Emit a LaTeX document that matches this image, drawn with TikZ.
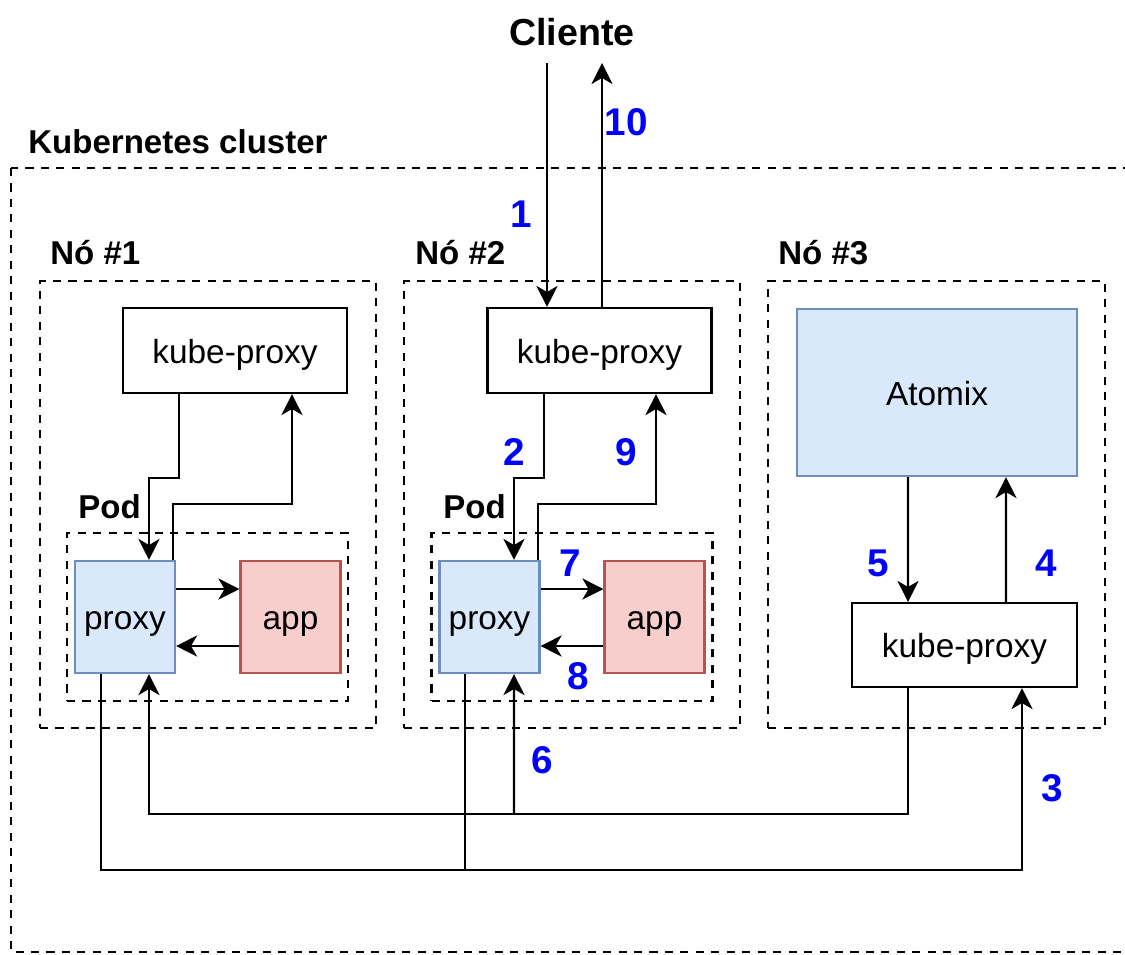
\documentclass[tikz,border=0pt]{standalone}
\usepackage{fontspec}
\setmainfont{Liberation Sans}
\usepackage{tikz}
\usetikzlibrary{arrows.meta,calc,positioning}
\definecolor{Num}{HTML}{0000FF}
\definecolor{ProxyLine}{HTML}{6C8EBF}
\definecolor{ProxyFill}{HTML}{DAE8FC}
\definecolor{AppLine}{HTML}{B85450}
\definecolor{AppFill}{HTML}{F8CECC}
\tikzset{kbox/.style={draw,line width=1.2pt,fill=white,minimum width=4.48cm,minimum height=1.7cm,text height=18pt,text depth=3.4pt,font=\fontsize{19}{23}\selectfont},proxy/.style={draw=ProxyLine,fill=ProxyFill,line width=1.2pt,minimum width=2cm,minimum height=2.24cm,text height=18pt,text depth=3.4pt,font=\fontsize{19}{23}\selectfont},app/.style={draw=AppLine,fill=AppFill,line width=1.2pt,minimum width=2cm,minimum height=2.24cm,text height=18pt,text depth=3.4pt,font=\fontsize{19}{23}\selectfont},group/.style={draw,line width=1.2pt,dash pattern=on 4.6pt off 4.2pt,inner sep=0pt},title/.style={font=\bfseries\fontsize{18.8}{22}\selectfont,anchor=west,inner sep=0pt},num/.style={text=Num,font=\bfseries\fontsize{22}{26}\selectfont,inner sep=0pt},flow/.style={-{Stealth[length=12pt,width=12pt,inset=3.5pt]},line width=1.2pt}}

\begin{document}
\begin{tikzpicture}[x=0.02cm,y=-0.02cm]
      \useasboundingbox (0,0) rectangle (1125,954);
      % cluster and the three nodes
      \draw[group] (11,168) rectangle (1140,952);
      \node[title] (tcl) at (28,142) {Kubernetes cluster};
      \node[group,minimum width=6.72cm,minimum height=8.94cm] (n1) at (208,504.5) {};
      \node[group,minimum width=6.72cm,minimum height=8.94cm] (n2) at (572,504.5) {};
      \node[group,minimum width=6.74cm,minimum height=8.94cm] (n3) at (936.5,504.5) {};
      \node[title] (tn1) at (50,253) {Nó \#1};
      \node[title] (tn2) at (415,253) {Nó \#2};
      \node[title] (tn3) at (778,253) {Nó \#3};
      \node[group,minimum width=5.62cm,minimum height=3.36cm] (pod1) at (207.5,617) {};
      \node[group,minimum width=5.62cm,minimum height=3.36cm] (pod2) at (572,617) {};
      \node[title] (tp1) at (78,507) {Pod};
      \node[title] (tp2) at (443,507) {Pod};
      % boxes
      \node[kbox] (kp1) at (235,350.5) {kube-proxy};
      \node[kbox] (kp2) at (599.5,350.5) {kube-proxy};
      \node[kbox,minimum width=4.5cm,minimum height=1.68cm] (kp3) at (964.5,645) {kube-proxy};
      \node[proxy,minimum width=5.6cm,minimum height=3.34cm] (at) at (937,392.5) {Atomix};
      \node[proxy] (pr1) at (125,617) {proxy};
      \node[app] (ap1) at (290.5,617) {app};
      \node[proxy] (pr2) at (489.5,617) {proxy};
      \node[app] (ap2) at (654.5,617) {app};
      \node[font=\bfseries\fontsize{21.4}{25}\selectfont] (cli) at (572,32) {Cliente};
      \coordinate (cin) at (547,63);\coordinate (cout) at (602,63);
      \coordinate (j6) at (514,813);
      % client
      \draw[flow] (cin) -- (cin |- kp2.north);
      \draw[flow] (cout |- kp2.north) -- (cout);
      % inside node 1 and 2
      \draw[flow] ([xshift=-1.12cm]kp1.south) -- ++(0,84) -| ([xshift=.48cm]pr1.north);
      \draw[flow] ([xshift=.96cm]pr1.north) -- ++(0,-56) -| ([xshift=1.14cm]kp1.south);
      \draw[flow] ([xshift=-1.11cm]kp2.south) -- ++(0,84) -| ([xshift=.49cm]pr2.north);
      \draw[flow] ([xshift=.97cm]pr2.north) -- ++(0,-56) -| ([xshift=1.13cm]kp2.south);
      \draw[flow] ([yshift=.56cm]pr1.east) -- ([yshift=.56cm]ap1.west);\draw[flow] ([yshift=-.58cm]ap1.west) -- ([yshift=-.58cm]pr1.east);
      \draw[flow] ([yshift=.56cm]pr2.east) -- ([yshift=.56cm]ap2.west);\draw[flow] ([yshift=-.58cm]ap2.west) -- ([yshift=-.58cm]pr2.east);
      % node 3
      \draw[flow] ([xshift=-.58cm]at.south) -- ([xshift=-1.13cm]kp3.north);
      \draw[flow] ([xshift=.83cm]kp3.north) -- ([xshift=1.38cm]at.south);
      % between nodes
      \draw[flow] ([xshift=-1.13cm]kp3.south) -- ++(0,126) -| ([xshift=.48cm]pr1.south);
      \draw[flow] (j6) -- ([xshift=.49cm]pr2.south);
      \draw[flow] ([xshift=-.48cm]pr1.south) -- ++(0,196) -| ([xshift=1.15cm]kp3.south);
      \draw[line width=1.2pt] ([xshift=-.49cm]pr2.south) -- ++(0,196);
      % step numbers
      \node[num] at (521,214) {1};\node[num] at (626,122) {10};
      \node[num] at (514,452) {2};\node[num] at (626,452) {9};
      \node[num] at (570,563) {7};\node[num] at (578,676) {8};
      \node[num] at (878,563) {5};\node[num] at (1046,563) {4};
      \node[num] at (542,760) {6};\node[num] at (1052,788) {3};
    \end{tikzpicture}
\end{document}
